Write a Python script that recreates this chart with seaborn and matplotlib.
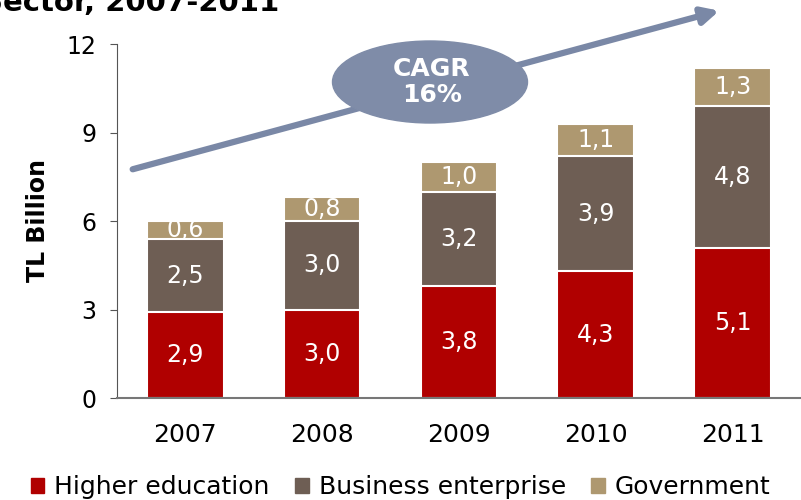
import numpy as np
import pandas as pd
import seaborn as sns
import matplotlib.pyplot as plt
from matplotlib.patches import Ellipse, Patch

years = ['2007', '2008', '2009', '2010', '2011']
higher_edu = [2.9, 3.0, 3.8, 4.3, 5.1]
business = [2.5, 3.0, 3.2, 3.9, 4.8]
government = [0.6, 0.8, 1.0, 1.1, 1.3]
series_names = ['Higher education', 'Business enterprise', 'Government']
colors = ['#B00000', '#6E5E54', '#AE9870']

sns.set_style('white')
plt.rcParams['font.family'] = ['DejaVu Sans']
plt.rcParams['text.color'] = 'black'
plt.rcParams['axes.labelcolor'] = 'black'
plt.rcParams['xtick.color'] = 'black'
plt.rcParams['ytick.color'] = 'black'

df = pd.DataFrame({'year': years, 'Higher education': higher_edu,
                   'Business enterprise': business, 'Government': government})
df['c1'] = df['Higher education']
df['c2'] = df['c1'] + df['Business enterprise']
df['c3'] = df['c2'] + df['Government']

fig = plt.figure(figsize=(8.01, 5.0), dpi=100)
ax = fig.add_axes([0.146, 0.204, 0.854, 0.708])

# stacked: draw cumulative totals from top down
for col, c in zip(['c3', 'c2', 'c1'], colors[::-1]):
    sns.barplot(data=df, x='year', y=col, color=c, width=0.56, ax=ax,
                edgecolor='white', linewidth=1.5, saturation=1)

for i in range(len(years)):
    bottoms = [0, df['c1'][i], df['c2'][i]]
    vals = [higher_edu[i], business[i], government[i]]
    for b, v in zip(bottoms, vals):
        ax.text(i, b + v / 2, f'{v:.1f}'.replace('.', ','), ha='center',
                va='center', color='white', fontsize=17)

ax.set_ylim(0, 12)
ax.set_xlim(-0.5, 4.5)
ax.set_yticks([0, 3, 6, 9, 12])
ax.set_xlabel('')
ax.set_ylabel('TL Billion', fontsize=17, fontweight='bold', labelpad=12)
ax.tick_params(axis='y', labelsize=17, length=5, color='#555555', direction='out', left=True, pad=10)
ax.tick_params(axis='x', labelsize=18, length=0, pad=18)
sns.despine(ax=ax, top=True, right=True)
ax.spines['left'].set_color('#555555')
ax.spines['bottom'].set_color('#777777')
ax.spines['bottom'].set_linewidth(1.5)

# growth arrow and CAGR bubble
ax.annotate('', xy=(722 / 801, 1 - 10 / 500), xytext=(130 / 801, 1 - 170 / 500),
            xycoords='figure fraction', textcoords='figure fraction',
            arrowprops=dict(arrowstyle='-|>,head_length=1.0,head_width=0.5',
                            color='#7A88A6', lw=4.5))
ell = Ellipse((430 / 801, 1 - 82 / 500), 195 / 801, 82 / 500,
              transform=fig.transFigure, color='#7F8CA8', zorder=5)
fig.patches.append(ell)
fig.text(432 / 801, 1 - 82 / 500, 'CAGR\n16%', ha='center', va='center',
         color='white', fontsize=18, fontweight='bold', zorder=6,
         linespacing=1.1)

fig.text(-18 / 801, 1 - 11 / 500, 'Sector, 2007-2011', ha='left',
         va='baseline', fontsize=21, fontweight='bold')

handles = [Patch(color=c, label=n) for c, n in zip(colors, series_names)]
fig.legend(handles=handles, loc='center', bbox_to_anchor=(0.5, 1 - 487 / 500),
           ncol=3, frameon=False, fontsize=18, handlelength=0.55,
           handleheight=0.55, handletextpad=0.4, columnspacing=1.0)

fig.savefig('out.png', dpi=100)
